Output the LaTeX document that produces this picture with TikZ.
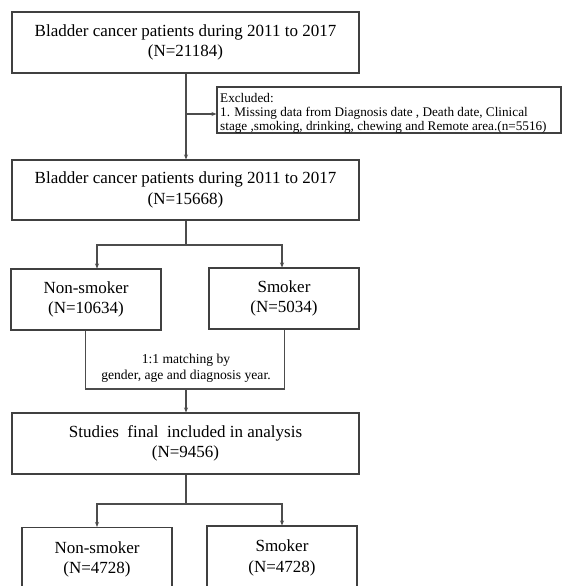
\documentclass[tikz,border=0pt]{standalone}
\usepackage{fontspec}
\setmainfont{Liberation Serif}
\usetikzlibrary{arrows.meta}
\begin{document}
\begin{tikzpicture}[x=1pt,y=-1pt,
  box/.style={draw=black!75,line width=1.1pt,rectangle,inner sep=0pt,align=center,font=\fontsize{17}{20.5}\selectfont},
  conn/.style={draw=black!70,line width=1.1pt},
  arr/.style={conn,-{Stealth[length=5pt,width=4pt]}}]
\useasboundingbox (0,0) rectangle (563,586);
\clip (0,0) rectangle (563,586);
\fill[white] (0,0) rectangle (563,586);
\node[box,minimum width=344pt,minimum height=46pt] (ex) at (389,110) {};
\node[align=left,anchor=north west,inner sep=0pt,font=\fontsize{13.2}{13.8}\selectfont] (ext) at (220,93.5) {Excluded:\\1. Missing data from Diagnosis date , Death date, Clinical\\stage ,smoking, drinking, chewing and Remote area.(n=5516)};
\node[box,minimum width=347pt,minimum height=61pt] (b1) at (185.5,42.5) {Bladder cancer patients during 2011 to 2017\\(N=21184)};
\node[box,minimum width=347pt,minimum height=60pt] (b2) at (185.5,190) {Bladder cancer patients during 2011 to 2017\\(N=15668)};
\node[box,minimum width=150pt,minimum height=61pt] (ns1) at (86,299.5) {Non-smoker\\(N=10634)};
\node[box,minimum width=150pt,minimum height=61pt] (s1) at (284,298.5) {Smoker\\(N=5034)};
\node[align=center,font=\fontsize{13.6}{15.5}\selectfont,inner sep=0pt] (mt) at (186,368) {1:1 matching by\\gender, age and diagnosis year.};
\node[box,minimum width=347pt,minimum height=61pt] (b3) at (185.5,443.5) {Studies\ \ final\ \ included in analysis\\(N=9456)};
\node[box,minimum width=150pt,minimum height=64pt] (ns2) at (97,559.5) {Non-smoker\\(N=4728)};
\node[box,minimum width=150pt,minimum height=64pt] (s2) at (282,558) {Smoker\\(N=4728)};
\coordinate (j1) at (186,114);
\coordinate (j2) at (186,245);
\coordinate (j3) at (186,389);
\coordinate (j4) at (186,504);
\draw[arr] (b1.south -| j1) -- (b2.north -| j1);
\draw[arr] (j1) -- (j1 -| ex.west);
\draw[conn] (b2.south -| j2) -- (j2);
\draw[arr] (j2) -- (97,245) -- (97,268.5);
\draw[arr] (j2) -- (282,245) -- (282,267.5);
\draw[conn] (ns1.south -| 85.5,0) -- (85.5,389) -- (284.5,389) -- (s1.south -| 284.5,0);
\draw[arr] (j3) -- (b3.north -| j3);
\draw[conn] (b3.south -| j4) -- (j4);
\draw[arr] (j4) -- (97,504) -- (ns2.north);
\draw[arr] (j4) -- (282,504) -- (s2.north);
\end{tikzpicture}
\end{document}
